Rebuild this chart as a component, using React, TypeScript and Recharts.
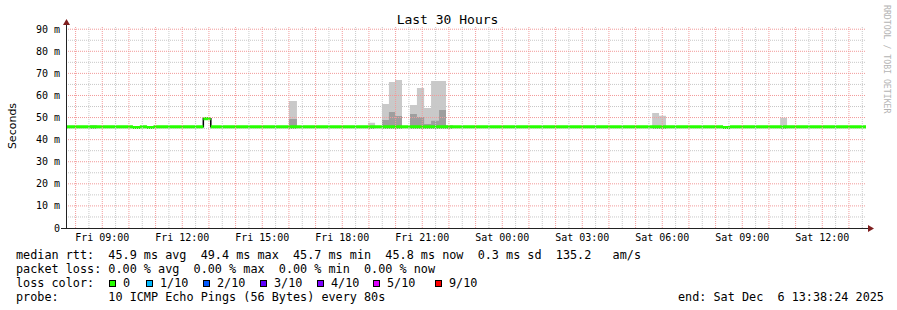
import React from 'react';
import { ComposedChart, Area, XAxis, YAxis, ReferenceLine } from 'recharts';

// time axis: hours since Fri 07:38:24 (30 hour window)
const HOURS = 30;
const xTickHours = [1.36, 4.36, 7.36, 10.36, 13.36, 16.36, 19.36, 22.36, 25.36, 28.36];
const xTickLabels = [
  'Fri 09:00', 'Fri 12:00', 'Fri 15:00', 'Fri 18:00', 'Fri 21:00',
  'Sat 00:00', 'Sat 03:00', 'Sat 06:00', 'Sat 09:00', 'Sat 12:00',
];
const yTicks = [0, 10, 20, 30, 40, 50, 60, 70, 80, 90];

// median rtt (ms), stepped segments
const medianFrom = [0, 2.51, 2.77, 3.04, 3.28, 5.15, 5.43, 24.64, 24.9];
const medianTo = [2.51, 2.77, 3.04, 3.28, 5.15, 5.43, 24.64, 24.9, 30];
const medianValue = [45.8, 45.5, 45.8, 45.5, 45.8, 49.5, 45.8, 45.5, 45.8];

// smoke bins (ms): outer spread top and inner spread top
const smokeFrom = [0.9, 8.36, 11.33, 11.85, 12.11, 12.34, 12.9, 13.16, 13.43, 13.69, 13.99, 14.25, 21.98, 22.24, 26.78];
const smokeTo = [1.16, 8.66, 11.59, 12.11, 12.34, 12.6, 13.16, 13.43, 13.69, 13.99, 14.25, 14.51, 22.24, 22.5, 27.04];
const smokeHigh = [46.6, 57.5, 47.7, 56.1, 66.1, 67.0, 55.7, 63.4, 54.3, 66.5, 66.5, 46.6, 52.1, 50.8, 49.9];
const smokeMid = [46.2, 49.3, 46.2, 48.9, 52.5, 50.7, 51.6, 50.2, 47.1, 48.6, 53.4, 46.2, 46.2, 46.2, 46.2];

const lossLabels = ['0', '1/10', '2/10', '3/10', '4/10', '5/10', '9/10'];
const lossColors = ['#26ff00', '#00b8ff', '#0059ff', '#5e00ff', '#7e00ff', '#dd00ff', '#ff0000'];
const lossBoxX = [109, 146, 203, 260, 317, 373, 435];

const hourLines = Array.from({ length: 30 }, (_, i) => 0.36 + i);
const halfHourLines = Array.from({ length: 30 }, (_, i) => 0.86 + i);
const majorY = [10, 20, 30, 40, 50, 60, 70, 80, 90];
const minorY = [5, 15, 25, 35, 45, 55, 65, 75, 85];

const breaks = Array.from(
  new Set([0, HOURS, ...medianFrom, ...medianTo, ...smokeFrom, ...smokeTo])
).sort((a, b) => a - b);

const rows = breaks.map((t, k) => {
  const probe = k === breaks.length - 1 ? breaks[k - 1] : t;
  const mi = medianFrom.findIndex((f, i) => probe >= f && probe < medianTo[i]);
  const m = medianValue[mi];
  const si = smokeFrom.findIndex((f, i) => probe >= f && probe < smokeTo[i]);
  const hi = si >= 0 ? smokeHigh[si] : m;
  const mid = si >= 0 ? smokeMid[si] : m;
  const lo = si >= 0 ? m - 0.9 : m;
  return { t, median: m, band: [m - 0.7, m + 0.7], smoke: [lo, hi], dark: [lo, mid] };
});

const mono = '"DejaVu Sans Mono", monospace';
const textStyle: React.CSSProperties = {
  position: 'absolute',
  fontFamily: mono,
  fontSize: 11.8,
  lineHeight: '14px',
  whiteSpace: 'pre',
  color: '#000',
};

export default function App() {
  return (
    <div style={{ position: 'absolute', left: 0, top: 0, width: 897, height: 310, background: '#fff', overflow: 'hidden' }}>
      <ComposedChart width={897} height={310} data={rows} margin={{ top: 27, right: 31, bottom: 62, left: 0 }}>
        <XAxis
          dataKey="t"
          type="number"
          domain={[0, HOURS]}
          ticks={xTickHours}
          tickFormatter={(v, i) => xTickLabels[i]}
          axisLine={false}
          tickLine={false}
          tickSize={0}
          tickMargin={6}
          height={20}
          interval={0}
          tick={{ fontSize: 10, fontFamily: mono, fill: '#000', stroke: 'none' }}
        />
        <YAxis
          type="number"
          domain={[0, 91]}
          ticks={yTicks}
          tickFormatter={(v) => (v === 0 ? '0' : `${v} m`)}
          axisLine={false}
          tickLine={false}
          tickSize={0}
          tickMargin={6}
          width={66}
          interval={0}
          tick={{ fontSize: 10, fontFamily: mono, fill: '#000', stroke: 'none' }}
        />
        <Area dataKey="smoke" type="stepAfter" fill="#c9c9c9" fillOpacity={1} stroke="none" isAnimationActive={false} />
        <Area dataKey="dark" type="stepAfter" fill="#9e9e9e" fillOpacity={1} stroke="none" isAnimationActive={false} />
        {minorY.map((y) => (
          <ReferenceLine key={'my' + y} y={y} stroke="#c8c8c8" strokeDasharray="1 1" />
        ))}
        {halfHourLines.map((x) => (
          <ReferenceLine key={'mx' + x} x={x} stroke="#c8c8c8" strokeDasharray="1 1" />
        ))}
        {majorY.map((y) => (
          <ReferenceLine key={'gy' + y} y={y} stroke="#f29a9a" strokeDasharray="1 1" />
        ))}
        {hourLines.map((x) => (
          <ReferenceLine key={'gx' + x} x={x} stroke="#f29a9a" strokeDasharray="1 1" />
        ))}
        <Area
          dataKey="median"
          type="stepAfter"
          fill="none"
          fillOpacity={0}
          stroke="#000"
          strokeWidth={1.5}
          isAnimationActive={false}
        />
        <Area dataKey="band" type="stepAfter" fill="#26ff00" fillOpacity={1} stroke="none" isAnimationActive={false} />
      </ComposedChart>

      <svg width={897} height={310} style={{ position: 'absolute', left: 0, top: 0, pointerEvents: 'none' }}>
        <line x1={66.5} y1={228} x2={66.5} y2={23} stroke="#222" strokeWidth={1} />
        <line x1={61} y1={228.5} x2={869} y2={228.5} stroke="#222" strokeWidth={1} />
        <polygon points="63,25 66.5,19 70,25" fill="#7f1f1f" />
        <polygon points="868,225 874,228.5 868,232" fill="#7f1f1f" />
        <text x={16} y={126} transform="rotate(-90 16 126)" textAnchor="middle" fontSize={11} fontFamily='"DejaVu Sans", sans-serif' fill="#000">
          Seconds
        </text>
        <text x={884} y={5} transform="rotate(90 884 5)" fontSize={8.2} fontFamily={mono} fill="#b4b4b4">
          RRDTOOL / TOBI OETIKER
        </text>
      </svg>

      <div style={{ ...textStyle, left: 0, width: 895, top: 12, fontSize: 13, lineHeight: '16px', textAlign: 'center' }}>Last 30 Hours</div>
      <div style={{ ...textStyle, left: 16, top: 248 }}>
        {'median rtt:  45.9 ms avg  49.4 ms max  45.7 ms min  45.8 ms now  0.3 ms sd  135.2   am/s'}
      </div>
      <div style={{ ...textStyle, left: 16, top: 262 }}>
        {'packet loss: 0.00 % avg  0.00 % max  0.00 % min  0.00 % now'}
      </div>
      <div style={{ ...textStyle, left: 16, top: 276 }}>{'loss color:'}</div>
      {lossLabels.map((label, i) => (
        <React.Fragment key={label}>
          <div
            style={{
              position: 'absolute',
              left: lossBoxX[i],
              top: 280,
              width: 5,
              height: 5,
              background: lossColors[i],
              border: '1px solid #000',
            }}
          />
          <div style={{ ...textStyle, left: lossBoxX[i] + 14, top: 276 }}>{label}</div>
        </React.Fragment>
      ))}
      <div style={{ ...textStyle, left: 16, top: 290 }}>
        {'probe:       10 ICMP Echo Pings (56 Bytes) every 80s'}
      </div>
      <div style={{ ...textStyle, left: 678, top: 290 }}>{'end: Sat Dec  6 13:38:24 2025'}</div>
    </div>
  );
}
